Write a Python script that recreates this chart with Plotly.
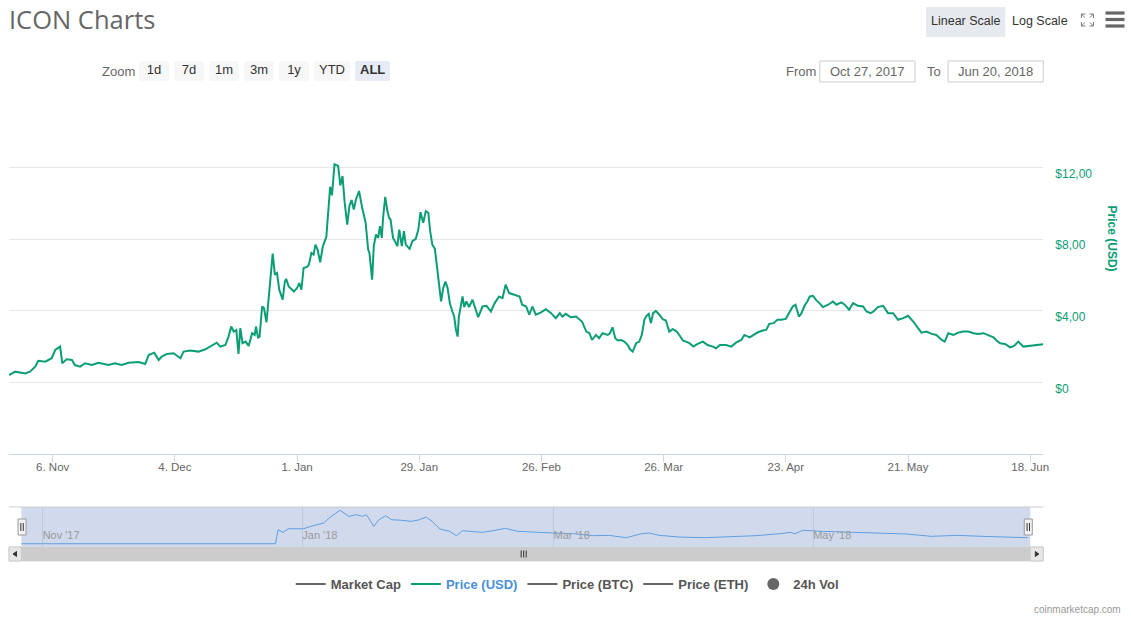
import plotly.graph_objects as go

# ---------------- data ----------------
price_times = [
    "2017-10-27 00:00", "2017-10-28 10:00", "2017-10-30 17:00", "2017-10-31 19:00",
    "2017-11-02 00:00", "2017-11-02 17:00", "2017-11-04 07:00", "2017-11-05 19:00",
    "2017-11-06 14:00", "2017-11-07 17:00", "2017-11-08 05:00", "2017-11-09 05:00",
    "2017-11-10 10:00", "2017-11-11 02:00", "2017-11-12 07:00", "2017-11-13 10:00",
    "2017-11-15 00:00", "2017-11-16 12:00", "2017-11-18 19:00", "2017-11-20 07:00",
    "2017-11-21 19:00", "2017-11-23 10:00", "2017-11-25 17:00", "2017-11-27 05:00",
    "2017-11-28 00:00", "2017-11-29 07:00", "2017-11-30 07:00", "2017-12-01 00:00",
    "2017-12-02 05:00", "2017-12-03 17:00", "2017-12-05 07:00", "2017-12-06 00:00",
    "2017-12-07 12:00", "2017-12-09 10:00", "2017-12-11 00:00", "2017-12-12 12:00",
    "2017-12-13 14:00", "2017-12-14 10:00", "2017-12-15 14:00", "2017-12-16 07:00",
    "2017-12-16 22:00", "2017-12-17 12:00", "2017-12-18 02:00", "2017-12-18 14:00",
    "2017-12-19 00:00", "2017-12-19 12:00", "2017-12-20 05:00", "2017-12-20 22:00",
    "2017-12-21 17:00", "2017-12-22 07:00", "2017-12-22 14:00", "2017-12-23 02:00",
    "2017-12-23 10:00", "2017-12-24 00:00", "2017-12-24 10:00", "2017-12-25 00:00",
    "2017-12-25 12:00", "2017-12-26 10:00", "2017-12-26 22:00", "2017-12-27 10:00",
    "2017-12-27 22:00", "2017-12-28 17:00", "2017-12-29 05:00", "2017-12-29 12:00",
    "2017-12-30 02:00", "2017-12-31 07:00", "2018-01-01 00:00", "2018-01-01 12:00",
    "2018-01-02 00:00", "2018-01-02 12:00", "2018-01-03 07:00", "2018-01-03 17:00",
    "2018-01-04 07:00", "2018-01-04 19:00", "2018-01-05 05:00", "2018-01-05 17:00",
    "2018-01-06 07:00", "2018-01-06 22:00", "2018-01-07 17:00", "2018-01-08 02:00",
    "2018-01-08 14:00", "2018-01-09 00:00", "2018-01-09 14:00", "2018-01-10 10:00",
    "2018-01-10 22:00", "2018-01-11 10:00", "2018-01-11 22:00", "2018-01-12 12:00",
    "2018-01-13 00:00", "2018-01-13 12:00", "2018-01-14 00:00", "2018-01-14 12:00",
    "2018-01-15 05:00", "2018-01-15 22:00", "2018-01-16 17:00", "2018-01-17 07:00",
    "2018-01-17 14:00", "2018-01-18 05:00", "2018-01-18 14:00", "2018-01-19 02:00",
    "2018-01-19 14:00", "2018-01-20 00:00", "2018-01-20 10:00", "2018-01-20 17:00",
    "2018-01-21 05:00", "2018-01-21 17:00", "2018-01-22 02:00", "2018-01-22 10:00",
    "2018-01-23 00:00", "2018-01-23 10:00", "2018-01-24 00:00", "2018-01-24 10:00",
    "2018-01-25 00:00", "2018-01-25 12:00", "2018-01-25 22:00", "2018-01-26 19:00",
    "2018-01-27 10:00", "2018-01-28 05:00", "2018-01-28 19:00", "2018-01-29 07:00",
    "2018-01-29 22:00", "2018-01-30 12:00", "2018-01-31 02:00", "2018-01-31 12:00",
    "2018-02-01 00:00", "2018-02-01 14:00", "2018-02-02 05:00", "2018-02-02 12:00",
    "2018-02-03 00:00", "2018-02-03 12:00", "2018-02-04 00:00", "2018-02-04 12:00",
    "2018-02-05 00:00", "2018-02-05 14:00", "2018-02-06 00:00", "2018-02-06 10:00",
    "2018-02-06 19:00", "2018-02-07 02:00", "2018-02-07 12:00", "2018-02-07 22:00",
    "2018-02-08 07:00", "2018-02-08 19:00", "2018-02-09 10:00", "2018-02-10 05:00",
    "2018-02-10 17:00", "2018-02-11 12:00", "2018-02-12 12:00", "2018-02-13 10:00",
    "2018-02-14 10:00", "2018-02-15 07:00", "2018-02-16 07:00", "2018-02-17 02:00",
    "2018-02-17 19:00", "2018-02-18 14:00", "2018-02-19 19:00", "2018-02-21 00:00",
    "2018-02-21 14:00", "2018-02-22 12:00", "2018-02-23 05:00", "2018-02-23 22:00",
    "2018-02-24 17:00", "2018-02-25 22:00", "2018-02-27 00:00", "2018-02-28 05:00",
    "2018-03-01 07:00", "2018-03-02 05:00", "2018-03-02 19:00", "2018-03-03 14:00",
    "2018-03-04 17:00", "2018-03-05 22:00", "2018-03-07 07:00", "2018-03-08 07:00",
    "2018-03-09 00:00", "2018-03-09 14:00", "2018-03-10 12:00", "2018-03-11 05:00",
    "2018-03-12 00:00", "2018-03-13 05:00", "2018-03-13 17:00", "2018-03-14 07:00",
    "2018-03-14 22:00", "2018-03-15 12:00", "2018-03-16 05:00", "2018-03-17 00:00",
    "2018-03-17 19:00", "2018-03-18 07:00", "2018-03-18 22:00", "2018-03-19 17:00",
    "2018-03-20 10:00", "2018-03-21 00:00", "2018-03-21 14:00", "2018-03-22 02:00",
    "2018-03-22 14:00", "2018-03-23 02:00", "2018-03-23 14:00", "2018-03-24 05:00",
    "2018-03-25 00:00", "2018-03-25 19:00", "2018-03-26 12:00", "2018-03-27 07:00",
    "2018-03-28 02:00", "2018-03-29 00:00", "2018-03-29 14:00", "2018-03-30 10:00",
    "2018-03-31 02:00", "2018-03-31 22:00", "2018-04-01 19:00", "2018-04-02 19:00",
    "2018-04-04 00:00", "2018-04-05 02:00", "2018-04-06 07:00", "2018-04-07 00:00",
    "2018-04-07 22:00", "2018-04-09 07:00", "2018-04-10 12:00", "2018-04-11 14:00",
    "2018-04-12 19:00", "2018-04-13 12:00", "2018-04-14 17:00", "2018-04-15 14:00",
    "2018-04-16 14:00", "2018-04-17 17:00", "2018-04-18 12:00", "2018-04-19 05:00",
    "2018-04-20 05:00", "2018-04-21 02:00", "2018-04-21 22:00", "2018-04-23 00:00",
    "2018-04-23 19:00", "2018-04-24 14:00", "2018-04-25 05:00", "2018-04-26 00:00",
    "2018-04-26 14:00", "2018-04-27 07:00", "2018-04-27 22:00", "2018-04-28 12:00",
    "2018-04-29 05:00", "2018-04-30 00:00", "2018-04-30 17:00", "2018-05-01 12:00",
    "2018-05-02 17:00", "2018-05-03 19:00", "2018-05-04 14:00", "2018-05-05 17:00",
    "2018-05-06 12:00", "2018-05-07 12:00", "2018-05-08 10:00", "2018-05-09 12:00",
    "2018-05-10 17:00", "2018-05-11 12:00", "2018-05-12 10:00", "2018-05-13 02:00",
    "2018-05-14 02:00", "2018-05-15 07:00", "2018-05-16 10:00", "2018-05-17 14:00",
    "2018-05-18 17:00", "2018-05-19 22:00", "2018-05-21 00:00", "2018-05-22 05:00",
    "2018-05-23 07:00", "2018-05-24 02:00", "2018-05-25 05:00", "2018-05-26 10:00",
    "2018-05-27 12:00", "2018-05-28 17:00", "2018-05-29 10:00", "2018-05-30 05:00",
    "2018-05-31 10:00", "2018-06-01 12:00", "2018-06-02 17:00", "2018-06-03 19:00",
    "2018-06-05 00:00", "2018-06-06 02:00", "2018-06-07 07:00", "2018-06-08 10:00",
    "2018-06-09 14:00", "2018-06-10 07:00", "2018-06-11 02:00", "2018-06-12 05:00",
    "2018-06-13 10:00", "2018-06-14 07:00", "2018-06-15 07:00", "2018-06-16 10:00",
    "2018-06-17 14:00", "2018-06-18 17:00", "2018-06-19 22:00", "2018-06-21 00:00",
]
price_usd = [
    0.41, 0.60, 0.50, 0.60,
    0.88, 1.21, 1.16, 1.35,
    1.81, 2.00, 1.07, 1.29,
    1.25, 0.97, 0.88, 1.07,
    0.97, 1.10, 0.97, 1.07,
    0.97, 1.10, 1.14, 1.03,
    1.53, 1.66, 1.25, 1.44,
    1.59, 1.63, 1.35, 1.72,
    1.78, 1.72, 1.85, 2.09,
    2.22, 2.00, 2.09, 2.56,
    3.12, 2.84, 2.93, 1.59,
    3.03, 2.19, 2.28, 2.04,
    2.75, 2.65, 3.12, 2.47,
    2.56, 4.24, 4.15, 3.35,
    4.80, 7.20, 6.02, 6.11,
    5.18, 4.62, 5.64, 5.78,
    5.36, 5.08, 5.27, 5.55,
    5.18, 6.39, 6.45, 6.58,
    7.23, 7.14, 7.70, 7.42,
    6.71, 7.60, 8.13, 9.57,
    10.93, 10.45, 12.19, 12.09,
    11.00, 11.53, 10.04, 8.82,
    9.85, 10.19, 9.66, 10.22,
    10.69, 9.76, 8.92, 7.42,
    7.23, 5.74, 7.61, 8.26,
    8.07, 8.73, 8.07, 9.20,
    10.37, 9.57, 9.20, 9.10,
    8.07, 7.89, 7.61, 8.54,
    7.61, 8.45, 7.70, 7.46,
    7.89, 8.02, 8.54, 9.51,
    8.92, 9.57, 9.48, 8.45,
    7.70, 7.46, 6.02, 5.74,
    4.52, 5.27, 5.64, 5.27,
    4.43, 3.96, 3.68, 2.93,
    2.56, 3.68, 4.34, 4.80,
    4.21, 4.52, 4.21, 4.62,
    4.24, 3.64, 4.24, 4.28,
    3.96, 4.43, 4.80, 4.71,
    5.46, 4.99, 4.90, 4.80,
    4.34, 4.24, 3.78, 4.24,
    3.78, 3.91, 4.09, 3.87,
    3.59, 3.87, 3.68, 3.83,
    3.64, 3.68, 3.40, 2.84,
    2.75, 2.37, 2.65, 2.47,
    2.75, 2.65, 2.75, 3.08,
    2.47, 2.34, 2.37, 2.28,
    2.09, 1.85, 1.72, 2.19,
    2.28, 2.65, 3.50, 3.72,
    3.83, 3.31, 3.87, 4.00,
    3.78, 3.53, 3.46, 2.84,
    2.97, 2.84, 2.65, 2.34,
    2.28, 2.19, 2.00, 2.15,
    2.28, 2.09, 2.00, 1.91,
    2.09, 2.09, 2.00, 2.22,
    2.37, 2.65, 2.52, 2.65,
    2.80, 2.90, 2.93, 3.27,
    3.31, 3.50, 3.50, 3.55,
    3.87, 4.24, 4.34, 3.68,
    3.87, 4.28, 4.52, 4.80,
    4.84, 4.58, 4.43, 4.21,
    4.34, 4.52, 4.34, 4.47,
    4.34, 4.06, 4.43, 4.28,
    4.24, 3.96, 3.87, 3.96,
    4.21, 4.28, 3.87, 3.87,
    3.50, 3.59, 3.72, 3.40,
    3.03, 2.78, 2.84, 2.71,
    2.65, 2.37, 2.28, 2.75,
    2.65, 2.78, 2.84, 2.84,
    2.75, 2.71, 2.75, 2.65,
    2.52, 2.34, 2.19, 2.15,
    1.96, 2.04, 2.28, 2.00,
    2.04, 2.04, 2.11, 2.13,
]

# navigator series (market cap, USD billions)
nav_times = [
    "2017-10-27 00:00", "2017-12-25 17:00", "2017-12-26 07:00", "2017-12-27 12:00",
    "2017-12-28 17:00", "2018-01-01 07:00", "2018-01-03 00:00", "2018-01-06 00:00",
    "2018-01-07 19:00", "2018-01-09 22:00", "2018-01-11 22:00", "2018-01-13 17:00",
    "2018-01-15 02:00", "2018-01-16 02:00", "2018-01-17 19:00", "2018-01-19 00:00",
    "2018-01-20 14:00", "2018-01-22 00:00", "2018-01-24 10:00", "2018-01-26 17:00",
    "2018-01-28 12:00", "2018-01-30 02:00", "2018-01-31 12:00", "2018-02-02 07:00",
    "2018-02-04 14:00", "2018-02-06 05:00", "2018-02-07 14:00", "2018-02-10 00:00",
    "2018-02-12 07:00", "2018-02-14 17:00", "2018-02-17 17:00", "2018-02-20 14:00",
    "2018-02-24 05:00", "2018-02-28 22:00", "2018-03-05 17:00", "2018-03-10 10:00",
    "2018-03-14 00:00", "2018-03-18 02:00", "2018-03-21 17:00", "2018-03-23 12:00",
    "2018-03-25 19:00", "2018-03-30 14:00", "2018-04-05 12:00", "2018-04-11 10:00",
    "2018-04-17 10:00", "2018-04-23 07:00", "2018-04-25 14:00", "2018-04-26 19:00",
    "2018-04-28 14:00", "2018-05-02 19:00", "2018-05-08 17:00", "2018-05-13 10:00",
    "2018-05-18 05:00", "2018-05-22 22:00", "2018-05-28 19:00", "2018-06-03 19:00",
    "2018-06-09 17:00", "2018-06-15 14:00", "2018-06-20 10:00",
]
nav_mcap = [
    0.00, 0.00, 1.97, 1.60,
    2.11, 2.11, 2.45, 2.92,
    3.86, 4.70, 3.86, 4.08,
    3.86, 4.08, 2.45, 3.38,
    3.94, 3.38, 3.30, 3.15,
    3.38, 3.76, 3.15, 2.07,
    1.75, 1.13, 1.83, 1.75,
    1.60, 1.83, 2.17, 1.75,
    1.60, 1.51, 1.41, 1.13,
    1.18, 0.85, 1.41, 1.51,
    1.18, 0.94, 0.85, 0.94,
    1.13, 1.41, 1.60, 1.41,
    1.89, 1.75, 1.65, 1.60,
    1.51, 1.37, 1.04, 1.18,
    1.04, 0.94, 0.85,
]

x_tick_dates = ["2017-11-06", "2017-12-04", "2018-01-01", "2018-01-29", "2018-02-26",
                "2018-03-26", "2018-04-23", "2018-05-21", "2018-06-18"]
x_tick_labels = ["6. Nov", "4. Dec", "1. Jan", "29. Jan", "26. Feb",
                 "26. Mar", "23. Apr", "21. May", "18. Jun"]
y_tick_values = [0, 4, 8, 12, 16]
y_tick_labels = ["$0", "$4,00", "$8,00", "$12,00", ""]
nav_tick_dates = ["2017-11-01", "2018-01-01", "2018-03-01", "2018-05-01"]
nav_tick_labels = ["Nov '17", "Jan '18", "Mar '18", "May '18"]
nav_range = ["2017-10-27", "2018-06-21"]
legend_hidden_series = ["Market Cap", "Price (BTC)", "Price (ETH)"]

# ---------------- helpers (picture pixel -> paper) ----------------
W, H = 1131, 627
XSPAN = 1122.5   # horizontal pixels of the photographed page per unit of paper
def px(x):
    return x / XSPAN
def py(y):
    return 1 - y / H

GREEN = "#0b9e76"
FONT = "Liberation Sans, Arial, sans-serif"

fig = go.Figure()

# series that are switched off in the reference: listed in the legend, no points drawn
fig.add_trace(go.Scatter(x=[None], y=[None], mode="lines",
                         name="<b>" + legend_hidden_series[0] + "</b>",
                         line=dict(color="#666666", width=2), xaxis="x", yaxis="y"))
fig.add_trace(go.Scatter(x=price_times, y=price_usd, mode="lines",
                         name="<b><span style='color:#4a8fd8'>Price (USD)</span></b>",
                         line=dict(color=GREEN, width=2), xaxis="x", yaxis="y"))
for nm in legend_hidden_series[1:]:
    fig.add_trace(go.Scatter(x=[None], y=[None], mode="lines",
                             name="<b>" + nm + "</b>",
                             line=dict(color="#666666", width=2), xaxis="x", yaxis="y"))
fig.add_trace(go.Scatter(x=[None], y=[None], mode="markers", name="<b>24h Vol</b>",
                         marker=dict(color="#666666", size=12, symbol="circle"),
                         xaxis="x", yaxis="y"))
# navigator
fig.add_trace(go.Scatter(x=nav_times, y=nav_mcap, mode="lines", showlegend=False,
                         line=dict(color="#5f9fe0", width=1), xaxis="x2", yaxis="y2",
                         hoverinfo="skip"))

shapes = []
def rect(x0, y0, x1, y1, fill, line_color=None, lw=0, layer="below"):
    shapes.append(dict(type="rect", xref="paper", yref="paper",
                       x0=px(x0), x1=px(x1), y0=py(y1), y1=py(y0),
                       fillcolor=fill, layer=layer,
                       line=dict(color=line_color or fill, width=lw)))
def line(x0, y0, x1, y1, color, lw=1, layer="above"):
    shapes.append(dict(type="line", xref="paper", yref="paper",
                       x0=px(x0), x1=px(x1), y0=py(y0), y1=py(y1), layer=layer,
                       line=dict(color=color, width=lw)))
def path(points, color, lw=1, fill=None):
    d = "M" + " L".join(f"{px(a):.5f},{py(b):.5f}" for a, b in points)
    if fill:
        d += " Z"
    shapes.append(dict(type="path", xref="paper", yref="paper", path=d, layer="above",
                       fillcolor=fill if fill else "rgba(0,0,0,0)",
                       line=dict(color=color, width=lw)))

# navigator mask + outline
rect(21.3, 507, 1028, 547, "rgba(102,133,194,0.3)")
line(9, 507, 1041, 507, "#cccccc", 1)
# navigator handles
for hx in (22, 1026):
    rect(hx - 4, 519, hx + 4, 535, "#f2f2f2", "#999999", 1, layer="above")
    line(hx - 1.2, 523, hx - 1.2, 531, "#333333", 1)
    line(hx + 1.2, 523, hx + 1.2, 531, "#333333", 1)
# scrollbar
rect(9, 547, 1041, 561, "#f2f2f2", "#dddddd", 1)
rect(21.3, 547, 1028, 561, "#cccccc")
rect(9, 547, 21.3, 561, "#e6e6e6", "#cccccc", 1)
rect(1028, 547, 1041, 561, "#e6e6e6", "#cccccc", 1)
path([(16.5, 551.5), (13, 554), (16.5, 556.5)], "#333333", 1, fill="#333333")
path([(1033, 551.5), (1036.5, 554), (1033, 556.5)], "#333333", 1, fill="#333333")
for gx in (520, 522.5, 525):
    line(gx, 550.5, gx, 557.5, "#333333", 1)

# top-right controls
rect(924, 7, 1003, 37, "#e6e9ee", layer="above")
# fullscreen icon
for (cx, cy, sx, sy) in [(1079, 14, 1, 1), (1091, 14, -1, 1), (1079, 26, 1, -1), (1091, 26, -1, -1)]:
    path([(cx, cy + 4 * sy), (cx, cy), (cx + 4 * sx, cy)], "#777777", 1)
    line(cx, cy, cx + 3.5 * sx, cy + 3.5 * sy, "#777777", 1)
# hamburger
for hy in (13, 19.5, 26):
    rect(1103, hy - 1.6, 1122, hy + 1.6, "#666666", layer="above")
# From / To boxes
rect(818, 61, 913, 82, "#ffffff", "#cccccc", 1, layer="above")
rect(946, 61, 1041, 82, "#ffffff", "#cccccc", 1, layer="above")

annotations = []
def text(x, y, s, size=13, color="#666666", xanchor="left", family=FONT, angle=0):
    annotations.append(dict(x=px(x), y=py(y), xref="paper", yref="paper", text=s,
                            showarrow=False, xanchor=xanchor, yanchor="middle",
                            textangle=angle,
                            font=dict(size=size, color=color, family=family)))

text(7, 19, "ICON Charts", size=25.5, color="#666666", family="Open Sans, sans-serif")
text(100, 71.5, "Zoom", size=13)
text(963.5, 21, "Linear Scale", size=12.5, color="#333333", xanchor="center")
text(1038, 21, "Log Scale", size=12.5, color="#333333", xanchor="center")
text(782, 71.5, "From", size=13)
text(865.5, 71.5, "Oct 27, 2017", size=13, xanchor="center")
text(923, 71.5, "To", size=13)
text(993.5, 71.5, "Jun 20, 2018", size=13, xanchor="center")
text(1110, 239, "<b>Price (USD)</b>", size=12, color=GREEN, xanchor="center", angle=90)
text(1121, 609, "coinmarketcap.com", size=10, color="#999999", xanchor="right")

fig.update_layout(
    width=W, height=H,
    margin=dict(l=0, r=0, t=0, b=0),
    paper_bgcolor="#ffffff", plot_bgcolor="rgba(0,0,0,0)",
    font=dict(family=FONT, color="#666666"),
    showlegend=True,
    legend=dict(orientation="h", x=px(566), xanchor="center", y=py(584), yanchor="middle",
                font=dict(size=13, color="#555555", family=FONT),
                bgcolor="rgba(0,0,0,0)", itemwidth=30, tracegroupgap=0),
    hovermode=False,
    xaxis=dict(domain=[px(9), px(1041)], anchor="y", type="date", autorange=True,
               tickmode="array", tickvals=x_tick_dates, ticktext=x_tick_labels,
               ticks="outside", ticklen=7, tickcolor="#ccd6eb", tickwidth=1,
               ticklabelstandoff=-5,
               showline=True, linecolor="#ccd6eb", linewidth=1,
               showgrid=False, zeroline=False,
               tickfont=dict(size=11.5, color="#666666"),
               rangeselector=dict(
                   buttons=[
                       dict(count=1, label="1d", step="day", stepmode="backward"),
                       dict(count=7, label="7d", step="day", stepmode="backward"),
                       dict(count=1, label="1m", step="month", stepmode="backward"),
                       dict(count=3, label="3m", step="month", stepmode="backward"),
                       dict(count=1, label="1y", step="year", stepmode="backward"),
                       dict(count=1, label="YTD", step="year", stepmode="todate"),
                       dict(label="<b>ALL</b>", step="all"),
                   ],
                   x=px(138), xanchor="left", y=py(61), yanchor="top",
                   bgcolor="#f7f7f7", activecolor="#e6ebf5", borderwidth=0,
                   font=dict(size=13, color="#333333", family=FONT)),
               ),
    yaxis=dict(domain=[py(454), py(96)], anchor="x", side="right", range=[-4, 16],
               tickmode="array", tickvals=y_tick_values, ticktext=y_tick_labels,
               showgrid=True, gridcolor="#e6e6e6", gridwidth=1, zeroline=False,
               showline=False, ticks="", ticklabelstandoff=11, ticklabelshift=6,
               tickfont=dict(size=12, color=GREEN)),
    xaxis2=dict(domain=[px(21.3), px(1028)], anchor="y2", type="date", range=nav_range,
                tickmode="array", tickvals=nav_tick_dates, ticktext=nav_tick_labels,
                ticklabelposition="inside right", ticks="", showline=False,
                showgrid=True, gridcolor="#bfc8dc", gridwidth=1, zeroline=False,
                tickfont=dict(size=11, color="#999999"), fixedrange=True),
    yaxis2=dict(domain=[py(547), py(507)], anchor="x2", range=[-0.46, 5.17],
                visible=False, fixedrange=True),
    shapes=shapes,
    annotations=annotations,
)

# remove the default 8px page margin so the figure fills the window exactly
fig.write_html("out.html", config={"displayModeBar": False},
               post_script="document.body.style.margin='0';document.body.style.overflow='hidden';")
